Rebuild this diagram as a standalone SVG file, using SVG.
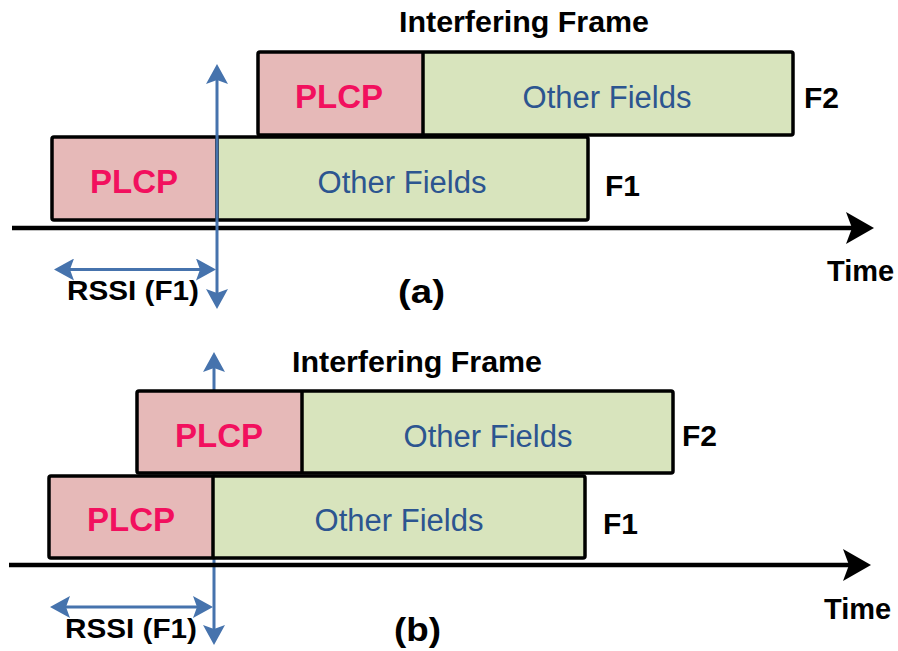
<svg xmlns="http://www.w3.org/2000/svg" width="898" height="651" viewBox="0 0 898 651">
  <style>
    .plcp { fill: #e6b9b8; }
    .other { fill: #d8e4bd; }
    .frame { fill: none; stroke: #000; stroke-width: 3.5; }
    .div { stroke: #000; stroke-width: 3.5; }
    .axis { stroke: #000; stroke-width: 4.5; fill: none; }
    .blue { stroke: #4673ad; stroke-width: 3; fill: none; }
    .lbl { font-family: "Liberation Sans", Arial, sans-serif; font-weight: bold; fill: #000; }
    .plcpTxt { font-family: "Liberation Sans", Arial, sans-serif; font-weight: bold; font-size: 33px; fill: #f2105e; text-anchor: middle; }
    .otherTxt { font-family: "Liberation Sans", Arial, sans-serif; font-size: 31px; fill: #2c5590; text-anchor: middle; }
  </style>
  <defs>
    <marker id="bluehead" viewBox="0 0 20 22" refX="12" refY="11" markerWidth="20" markerHeight="22" markerUnits="userSpaceOnUse" orient="auto-start-reverse">
      <path d="M0,0 L20,11 L0,22 L4,11 Z" fill="#4673ad"/>
    </marker>
    <marker id="timehead" viewBox="0 0 28 32" refX="14" refY="16" markerWidth="28" markerHeight="32" markerUnits="userSpaceOnUse" orient="auto">
      <path d="M0,0 L28,16 L0,32 L6,16 Z" fill="#000"/>
    </marker>
  </defs>

  <!-- ===== Panel (a) ===== -->
  <g id="a-title">
    <text class="lbl" x="399" y="32" font-size="30" textLength="250" lengthAdjust="spacingAndGlyphs">Interfering Frame</text>
  </g>

  <g id="a-f2">
    <rect class="plcp" x="258" y="52" width="165" height="83"/>
    <rect class="other" x="423" y="52" width="370" height="83"/>
    <line class="div" x1="423" y1="52" x2="423" y2="135"/>
    <rect class="frame" x="258" y="52" width="535" height="83" rx="2"/>
    <text class="plcpTxt" x="339" y="108">PLCP</text>
    <text class="otherTxt" x="607" y="108">Other Fields</text>
    <text class="lbl" x="804" y="108" font-size="30">F2</text>
  </g>

  <g id="a-f1">
    <rect class="plcp" x="52" y="137" width="165" height="83"/>
    <rect class="other" x="217" y="137" width="371" height="83"/>
    <line class="div" x1="217" y1="137" x2="217" y2="220"/>
    <rect class="frame" x="52" y="137" width="536" height="83" rx="2"/>
    <text class="plcpTxt" x="134" y="193">PLCP</text>
    <text class="otherTxt" x="402" y="193">Other Fields</text>
    <text class="lbl" x="605" y="196" font-size="30">F1</text>
  </g>

  <g id="a-connectors">
    <line class="axis" x1="12" y1="228" x2="860" y2="228" marker-end="url(#timehead)"/>
    <line class="blue" x1="217" y1="72" x2="217" y2="301" marker-start="url(#bluehead)" marker-end="url(#bluehead)"/>
    <line class="blue" x1="62" y1="269.5" x2="208" y2="269.5" marker-start="url(#bluehead)" marker-end="url(#bluehead)"/>
  </g>

  <g id="a-labels">
    <text class="lbl" x="827" y="281" font-size="29">Time</text>
    <text class="lbl" x="67" y="300" font-size="28" textLength="132" lengthAdjust="spacingAndGlyphs">RSSI (F1)</text>
    <text class="lbl" x="398" y="303" font-size="33" textLength="47" lengthAdjust="spacingAndGlyphs">(a)</text>
  </g>

  <!-- ===== Panel (b) ===== -->
  <g id="b-title">
    <text class="lbl" x="292" y="372" font-size="30" textLength="250" lengthAdjust="spacingAndGlyphs">Interfering Frame</text>
  </g>

  <g id="b-connectors">
    <line class="blue" x1="214" y1="360" x2="214" y2="637" marker-start="url(#bluehead)" marker-end="url(#bluehead)"/>
    <line class="blue" x1="58" y1="607" x2="205" y2="607" marker-start="url(#bluehead)" marker-end="url(#bluehead)"/>
    <line class="axis" x1="9" y1="565" x2="857" y2="565" marker-end="url(#timehead)"/>
  </g>

  <g id="b-f2">
    <rect class="plcp" x="137" y="391" width="165" height="82"/>
    <rect class="other" x="302" y="391" width="371" height="82"/>
    <line class="div" x1="302" y1="391" x2="302" y2="473"/>
    <rect class="frame" x="137" y="391" width="536" height="82" rx="2"/>
    <text class="plcpTxt" x="219" y="447">PLCP</text>
    <text class="otherTxt" x="488" y="447">Other Fields</text>
    <text class="lbl" x="682" y="446" font-size="30">F2</text>
  </g>

  <g id="b-f1">
    <rect class="plcp" x="49" y="476" width="164" height="82"/>
    <rect class="other" x="213" y="476" width="372" height="82"/>
    <line class="div" x1="213" y1="476" x2="213" y2="558"/>
    <rect class="frame" x="49" y="476" width="536" height="82" rx="2"/>
    <text class="plcpTxt" x="131" y="531">PLCP</text>
    <text class="otherTxt" x="399" y="531">Other Fields</text>
    <text class="lbl" x="603" y="534" font-size="30">F1</text>
  </g>

  <g id="b-labels">
    <text class="lbl" x="824" y="619" font-size="29">Time</text>
    <text class="lbl" x="65" y="638" font-size="28" textLength="132" lengthAdjust="spacingAndGlyphs">RSSI (F1)</text>
    <text class="lbl" x="394" y="641" font-size="33" textLength="47" lengthAdjust="spacingAndGlyphs">(b)</text>
  </g>
</svg>
